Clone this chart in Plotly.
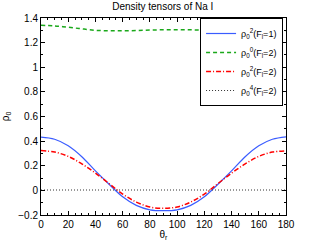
import plotly.graph_objects as go

theta = [0, 10, 20, 30, 40, 50, 60, 70, 80, 90, 100, 110, 120, 130, 140, 150, 160, 170, 180]

rho2_F1 = [0.432, 0.415, 0.362, 0.273, 0.158, 0.050, -0.052, -0.122, -0.158, -0.165,
           -0.158, -0.122, -0.052, 0.050, 0.158, 0.273, 0.362, 0.415, 0.435]
rho0_F2 = [1.341, 1.336, 1.325, 1.312, 1.300, 1.296, 1.296, 1.298, 1.302, 1.304,
           1.305, 1.304, 1.301, 1.298, 1.296, 1.295, 1.295, 1.296, 1.296]
rho2_F2 = [0.323, 0.311, 0.276, 0.215, 0.140, 0.055, -0.030, -0.095, -0.135, -0.146,
           -0.135, -0.095, -0.030, 0.055, 0.140, 0.215, 0.276, 0.311, 0.321]
rho4_F2 = [0.003, 0.003, 0.003, 0.003, 0.003, 0.003, 0.003, 0.003, 0.003, 0.003,
           0.003, 0.003, 0.003, 0.003, 0.003, 0.003, 0.003, 0.003, 0.003]

names = ["ρ<sub>0</sub><sup>2</sup>(F<sub>l</sub>=1)",
         "ρ<sub>0</sub><sup>0</sup>(F<sub>l</sub>=2)",
         "ρ<sub>0</sub><sup>2</sup>(F<sub>l</sub>=2)",
         "ρ<sub>0</sub><sup>4</sup>(F<sub>l</sub>=2)"]

fig = go.Figure()
fig.add_trace(go.Scatter(x=theta, y=rho2_F1, mode="lines", name=names[0],
                         line=dict(color="#3a5cff", width=1.2, shape="spline")))
fig.add_trace(go.Scatter(x=theta, y=rho0_F2, mode="lines", name=names[1],
                         line=dict(color="#1aa81a", width=1.5, dash="4px,3px", shape="spline")))
fig.add_trace(go.Scatter(x=theta, y=rho2_F2, mode="lines", name=names[2],
                         line=dict(color="#ff0000", width=1.5, dash="5px,2px,1px,2px", shape="spline")))
fig.add_trace(go.Scatter(x=theta, y=rho4_F2, mode="lines", name=names[3],
                         line=dict(color="#333333", width=1, dash="1px,2px")))

axis_common = dict(showline=True, linecolor="black", linewidth=1, mirror="allticks",
                   ticks="inside", ticklen=4, tickcolor="black", showgrid=False,
                   zeroline=False, automargin=False, tickfont=dict(size=10, color="black"))

fig.update_layout(
    width=316, height=242,
    margin=dict(l=41, r=30, t=18, b=27),
    paper_bgcolor="white", plot_bgcolor="white",
    font=dict(family="Liberation Sans, Arial, sans-serif", size=10, color="black"),
    title=dict(text="Density tensors of Na I", x=0.515, xanchor="center", y=0.987, yanchor="top",
               font=dict(size=10)),
    xaxis=dict(range=[0, 180], dtick=20, tick0=0,
               minor=dict(ticks="inside", ticklen=2, dtick=5, tickcolor="black"),
               title=dict(text="θ<sub>r</sub>", standoff=1, font=dict(size=10)),
               **axis_common),
    yaxis=dict(range=[-0.2, 1.4], dtick=0.2, tick0=0,
               minor=dict(ticks="inside", ticklen=2, dtick=0.1, tickcolor="black"),
               title=dict(text="ρ<sub>0</sub>", standoff=8, font=dict(size=10)),
               **axis_common),
    legend=dict(x=0.988, xanchor="right", y=1.0, yanchor="top",
                bgcolor="white", bordercolor="black", borderwidth=1,
                font=dict(size=9), itemwidth=30, tracegroupgap=0),
    showlegend=True,
)

fig.write_html("out.html", config={"displayModeBar": False},
               post_script="document.body.style.margin='0';")
